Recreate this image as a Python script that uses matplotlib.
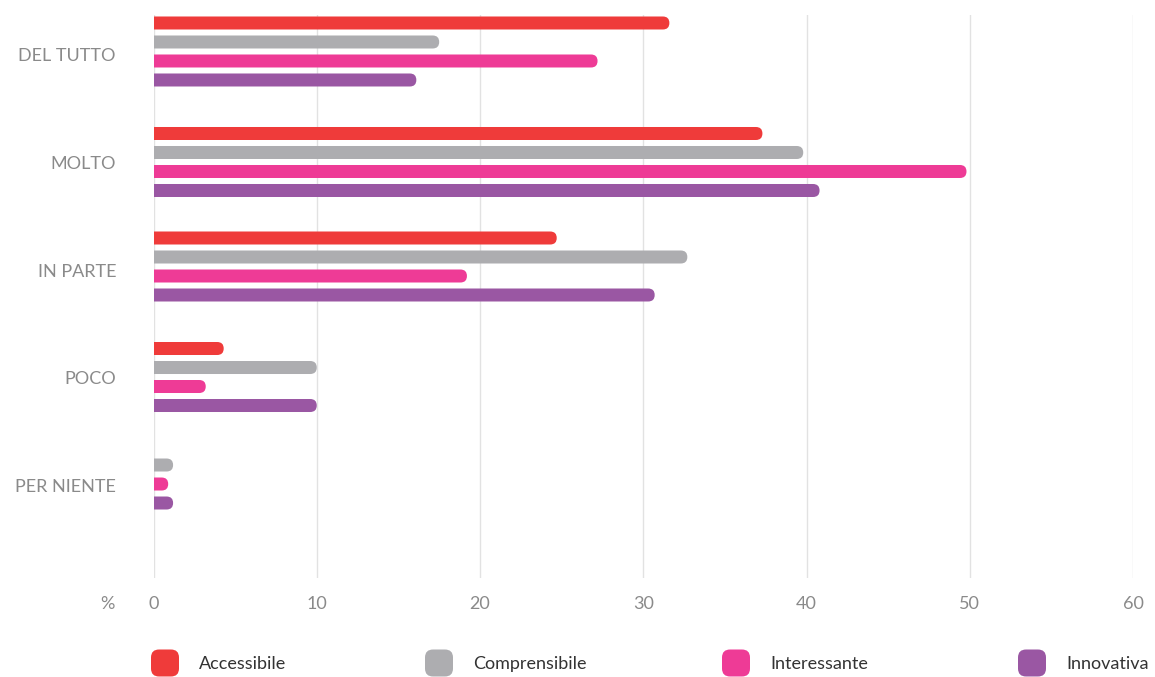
import numpy as np
import matplotlib
matplotlib.use('Agg')
import matplotlib.pyplot as plt
from matplotlib.patches import FancyBboxPatch
from matplotlib.transforms import IdentityTransform

plt.rcParams['font.family'] = ['Lato', 'DejaVu Sans']

# dati
categorie = ['DEL TUTTO', 'MOLTO', 'IN PARTE', 'POCO', 'PER NIENTE']
serie = ['Accessibile', 'Comprensibile', 'Interessante', 'Innovativa']
accessibile = [31.6, 37.3, 24.7, 4.3, 0.0]
comprensibile = [17.5, 39.8, 32.7, 10.0, 1.2]
interessante = [27.2, 49.8, 19.2, 3.2, 0.9]
innovativa = [16.1, 40.8, 30.7, 10.0, 1.2]
valori = [accessibile, comprensibile, interessante, innovativa]
colori = ['#EF3B3A', '#ADADB0', '#EE3B96', '#9A57A3']
x_ticks = [0, 10, 20, 30, 40, 50, 60]

W, H = 1155, 677
fig = plt.figure(figsize=(W / 100, H / 100), dpi=100)
ax = fig.add_axes([153.5 / W, 1 - 578 / H, (1133 - 153.5) / W, (578 - 15) / H])

ax.set_xlim(0, 60)
ax.set_ylim(4.865, -0.372)

px_x = ax.bbox.width / 60          # pixel per unita' x
px_y = ax.bbox.height / (4.865 + 0.372)
h_bar = 13 / px_y
r = 6.5 / px_x
offsets = np.array([-28.5, -9.5, 9.5, 28.5])
spost_gruppo = [-3.5, -0.5, -3.5, -0.5, -10.5]   # piccoli spostamenti in px

y = np.arange(len(categorie))
for i, (vals, col) in enumerate(zip(valori, colori)):
    for j, v in enumerate(vals):
        if v <= 0:
            continue
        yc = y[j] + (offsets[i] + spost_gruppo[j]) / px_y
        # parte da -r: il lato sinistro arrotondato viene tagliato dagli assi
        p = FancyBboxPatch((-r, yc - h_bar / 2), v + r, h_bar,
                           boxstyle='round,pad=0,rounding_size=%f' % r,
                           mutation_aspect=px_x / px_y,
                           facecolor=col, edgecolor='none', zorder=3)
        ax.add_patch(p)

ax.set_xticks(x_ticks)
ax.set_yticks(y)
ax.set_yticklabels(categorie)
ax.grid(axis='x', color='#E2E2E2', linewidth=1, zorder=0)
ax.set_axisbelow(True)
for s in ax.spines.values():
    s.set_visible(False)
ax.tick_params(axis='both', length=0, colors='#8A8A8A', labelsize=13)
ax.tick_params(axis='y', pad=27)
ax.tick_params(axis='x', pad=13)

fig.text(107 / W, 1 - 604 / H, '%', color='#8A8A8A', fontsize=13,
         ha='center', va='center')

# legenda
leg_x = [151, 425, 722, 1018]
for nome, col, lx in zip(serie, colori, leg_x):
    p = FancyBboxPatch((lx, 0.5), 28, 27, boxstyle='round,pad=0,rounding_size=8',
                       transform=IdentityTransform(), facecolor=col, edgecolor='none')
    fig.add_artist(p)
    fig.text((lx + 48) / W, 13 / H, nome, color='#333333', fontsize=13,
             ha='left', va='center')

fig.savefig('out.png', dpi=100)
